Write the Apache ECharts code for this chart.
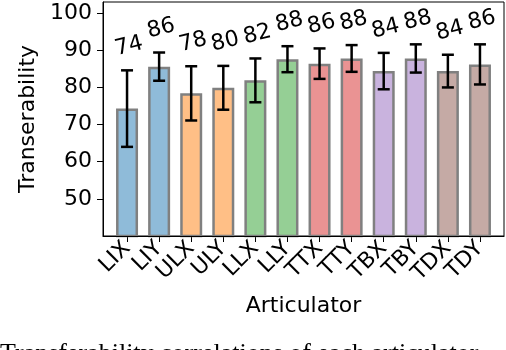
<!DOCTYPE html>
<html>
<head>
<meta charset="utf-8">
<script src="https://cdn.jsdelivr.net/npm/echarts@6/dist/echarts.min.js"></script>
<style>
  html, body { margin: 0; padding: 0; background: #fff; }
  #chart { width: 506px; height: 350px; }
</style>
</head>
<body>
<div id="chart"></div>
<script>
// data
const articulators = ['LIX', 'LIY', 'ULX', 'ULY', 'LLX', 'LLY', 'TTX', 'TTY', 'TBX', 'TBY', 'TDX', 'TDY']
const means = [74.3, 85.6, 78.4, 79.9, 81.9, 87.6, 86.4, 87.8, 84.4, 87.8, 84.4, 86.2]
const errors = [10.3, 3.8, 7.3, 5.9, 5.9, 3.5, 4.1, 3.6, 4.9, 3.8, 4.4, 5.4]
const barColors = ['#8fbbd9', '#8fbbd9', '#ffbf86', '#ffbf86', '#95cf95', '#95cf95',
  '#ea9393', '#ea9393', '#c9b3de', '#c9b3de', '#c5aaa5', '#c5aaa5']
const yTicks = [50, 60, 70, 80, 90, 100]

const font = 'DejaVu Sans'
const fs = 22
const chart = echarts.init(document.getElementById('chart'))

const errData = means.map((m, i) => [i, m - errors[i], m + errors[i], Math.round(m)])

const option = {
  animation: false,
  grid: [
    // outer frame
    { left: 103, top: 2, width: 401, height: 234, show: true, borderColor: '#000', borderWidth: 1, backgroundColor: 'transparent' },
    // bars, inset so that the outer margin is ~0.75 of a band
    { left: 111, top: 2, width: 385, height: 234 }
  ],
  xAxis: [
    { gridIndex: 0, type: 'value', min: 0, max: 1, z: 10,
      axisLine: { show: true, lineStyle: { color: '#000', width: 1.2 } },
      axisTick: { show: false }, axisLabel: { show: false }, splitLine: { show: false } },
    { gridIndex: 1, type: 'category', data: articulators,
      axisLine: { show: false },
      axisTick: { show: true, alignWithLabel: true, length: 6, lineStyle: { color: '#000', width: 1 } },
      axisLabel: { rotate: 45, fontSize: fs, fontFamily: font, color: '#000', margin: 9, interval: 0 },
      name: 'Articulator', nameLocation: 'middle', nameGap: 59,
      nameTextStyle: { fontSize: fs, fontFamily: font, color: '#000' } }
  ],
  yAxis: [
    { gridIndex: 0, type: 'value', min: 40, max: 103,
      axisLine: { show: true, lineStyle: { color: '#000', width: 1 } },
      axisTick: { show: true, length: 6, customValues: yTicks, lineStyle: { color: '#000' } },
      axisLabel: { customValues: yTicks, fontSize: fs, fontFamily: font, color: '#000', margin: 11 },
      splitLine: { show: false },
      name: 'Transerability', nameLocation: 'middle', nameGap: 55,
      nameTextStyle: { fontSize: fs, fontFamily: font, color: '#000' } },
    { gridIndex: 1, type: 'value', min: 40, max: 103, show: false, splitLine: { show: false } }
  ],
  series: [
    {
      type: 'bar', xAxisIndex: 1, yAxisIndex: 1, barWidth: 22,
      data: means.map((m, i) => ({
        value: m,
        itemStyle: { color: barColors[i], borderColor: '#808080', borderWidth: 2.5 }
      }))
    },
    {
      type: 'custom', xAxisIndex: 1, yAxisIndex: 1, z: 5,
      data: errData,
      renderItem(params, api) {
        const i = api.value(0)
        const lo = api.coord([i, api.value(1)])
        const hi = api.coord([i, api.value(2)])
        const cap = 6
        const st = { stroke: '#000', lineWidth: 2.5 }
        return {
          type: 'group',
          children: [
            { type: 'line', shape: { x1: hi[0], y1: hi[1], x2: lo[0], y2: lo[1] }, style: st },
            { type: 'line', shape: { x1: hi[0] - cap, y1: hi[1], x2: hi[0] + cap, y2: hi[1] }, style: st },
            { type: 'line', shape: { x1: lo[0] - cap, y1: lo[1], x2: lo[0] + cap, y2: lo[1] }, style: st },
            { type: 'text', x: hi[0] + 2, y: hi[1] - 24, rotation: 14 * Math.PI / 180,
              style: { text: String(api.value(3)), fontSize: fs, fontFamily: font, fill: '#000',
                align: 'center', verticalAlign: 'middle' } }
          ]
        }
      }
    }
  ],
  graphic: [
    { type: 'text', left: 0, top: 341,
      style: { text: 'Transferability correlations of each articulator', fontSize: 26,
        fontFamily: 'Liberation Serif', fill: '#000' } }
  ]
}

chart.setOption(option)
</script>
</body>
</html>
